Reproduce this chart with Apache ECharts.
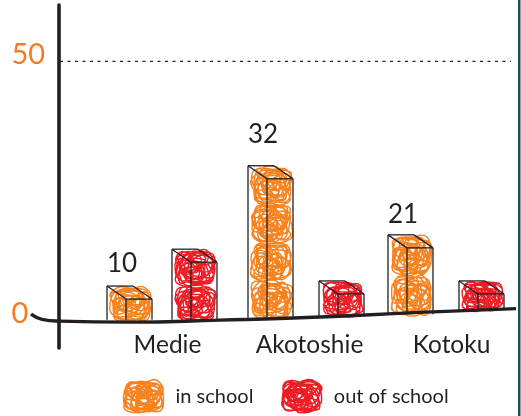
<!DOCTYPE html>
<html><head><meta charset="utf-8">
<style>html,body{margin:0;padding:0;background:#fff}#c{width:521px;height:416px}</style>
<script src="https://cdn.jsdelivr.net/npm/echarts@6/dist/echarts.min.js"></script>
</head><body><div id="c"></div>
<script>
// --- data ---
const categories = ['Medie', 'Akotoshie', 'Kotoku'];
const seriesNames = ['in school', 'out of school'];
const inSchoolLabels = [10, 32, 21];
// drawn heights in axis units (the sketch is not to scale with its labels)
const inSchoolTop = [6.1, 29.6, 16.1];
const outOfSchoolTop = [13.3, 7.1, 7.1];
const inSchoolBase = [-0.5, -0.1, 0.6];
const outOfSchoolBase = [-0.5, 0.25, 1.4];
const yTicks = [0, 50];
const guideValue = 50;

// --- layout / style constants ---
const ORANGE = '#f7821e', RED = '#ee1c25', INK = '#231f20', AXIS_ORANGE = '#f47b20';
const FONT = 'Lato';
const IN_DX = [-54.5, -55.5, -57.5], OUT_DX = [10.5, 15.5, 13.5];
const LABEL_RAISE = [22, 31, 20];
const FRONT_W = 26, SIDE_W = 19, SIDE_H = 13;

function squarish(v) {
  return Math.sign(v) * Math.pow(Math.abs(v), 0.72);
}
function scribblePoints(cx, cy, w, h, phase) {
  const pts = [];
  for (let t = 0; t < 300; t++) {
    const a = t * 0.39 + phase;
    const rx = 0.52 + 0.06 * Math.sin(t * 0.031 + phase);
    const ry = 0.50 + 0.07 * Math.cos(t * 0.027 + phase);
    const x = rx * Math.cos(a) + 0.40 * Math.cos(a * 0.23 + phase * 1.7) + 0.05 * Math.sin(a * 2.7);
    const y = ry * Math.sin(a) + 0.40 * Math.sin(a * 0.29 + phase) + 0.05 * Math.cos(a * 3.1);
    pts.push([cx + (w / 2) * squarish(x), cy + (h / 2) * squarish(y)]);
  }
  return pts;
}
function scribblePath(phase) {
  return 'path://' + scribblePoints(50, 40, 100, 80, phase)
    .map((p, i) => (i ? 'L' : 'M') + p[0].toFixed(1) + ' ' + p[1].toFixed(1)).join('');
}

function boxRenderer(color, dxList, labels) {
  return function (params, api) {
    const i = api.value(0);
    const topPt = api.coord([i, api.value(1)]);
    const basePt = api.coord([i, api.value(2)]);
    const x0 = topPt[0] + dxList[i], top = topPt[1], base = basePt[1];
    const x1 = x0 + SIDE_W, x2 = x1 + FRONT_W, frontTop = top + SIDE_H;
    const children = [];
    const w = x2 - x0, h = base - top;
    const blocks = Math.max(1, Math.round(h / 36));
    const bh = h / blocks;
    for (let b = 0; b < blocks; b++) {
      children.push({
        type: 'polyline', silent: true,
        shape: { points: scribblePoints((x0 + x2) / 2 + 1, top + bh * (b + 0.5) + 1, w - 3, bh + 2, 1.3 * b + i * 2.1 + (color === RED ? 0.7 : 0)) },
        style: { fill: 'none', stroke: color, lineWidth: 1.4 }
      });
    }
    const seg = (a, b, c, d) => ({ type: 'line', shape: { x1: a, y1: b, x2: c, y2: d }, style: { stroke: INK, lineWidth: 1.3 } });
    children.push(
      seg(x0, top, x0, base), seg(x1, frontTop, x1, base), seg(x2, frontTop, x2, base),
      seg(x0, top, x0 + FRONT_W, top), seg(x0, top, x1, frontTop),
      seg(x1, frontTop, x2, frontTop), seg(x0 + FRONT_W, top, x2, frontTop)
    );
    if (labels) {
      children.push({
        type: 'text',
        style: { x: x0 + 15, y: top - LABEL_RAISE[i], text: String(labels[i]), fill: INK, font: '26px ' + FONT, textAlign: 'center', textVerticalAlign: 'middle' }
      });
    }
    return { type: 'group', children };
  };
}

const chart = echarts.init(document.getElementById('c'), null, { renderer: 'canvas' });
chart.setOption({
  animation: false,
  backgroundColor: '#fff',
  grid: [
    { left: 90.5, width: 426, top: 5, bottom: 68 },
    { left: 0, width: 521, top: 5, bottom: 68 }
  ],
  legend: {
    left: 116, top: 372, itemWidth: 40, itemHeight: 36, itemGap: 26,
    textStyle: { fontFamily: FONT, fontSize: 20, color: INK, padding: [0, 0, 0, 7] },
    data: [
      { name: seriesNames[0], icon: scribblePath(0.4), itemStyle: { color: 'none', borderColor: ORANGE, borderWidth: 1.5 } },
      { name: seriesNames[1], icon: scribblePath(1.7), itemStyle: { color: 'none', borderColor: RED, borderWidth: 1.5 } }
    ],
    selectedMode: false
  },
  xAxis: [
    {
      type: 'category', data: categories, gridIndex: 0,
      axisLine: { show: false }, axisTick: { show: false },
      axisLabel: { fontFamily: FONT, fontSize: 24.5, color: INK, margin: -15, padding: [0, 0, 0, 12] }
    },
    { type: 'value', gridIndex: 1, min: 0, max: 521, show: false }
  ],
  yAxis: [
    {
      type: 'value', gridIndex: 0, min: -6, max: 61, offset: 32,
      axisLine: { show: true, lineStyle: { color: INK, width: 3.6 } },
      axisTick: { show: false }, splitLine: { show: false },
      axisLabel: {
        customValues: yTicks, fontFamily: FONT, align: 'left', margin: 47, verticalAlign: 'bottom',
        formatter: v => (v === 0 ? '{low|' + v + '}' : '{high|' + v + '}'),
        rich: {
          low: { color: AXIS_ORANGE, fontFamily: FONT, fontSize: 29, lineHeight: 8 },
          high: { color: AXIS_ORANGE, fontFamily: FONT, fontSize: 29, lineHeight: 14 }
        }
      }
    },
    { type: 'value', gridIndex: 1, min: -6, max: 61, show: false }
  ],
  series: [
    {
      name: 'guide', type: 'line', xAxisIndex: 1, yAxisIndex: 1, silent: true, symbol: 'none',
      data: [[60, guideValue], [511, guideValue]],
      lineStyle: { color: INK, width: 1.3, type: [3, 4.5] }
    },
    {
      name: 'baseline', type: 'line', xAxisIndex: 1, yAxisIndex: 1, silent: true, symbol: 'none', smooth: 0.5,
      data: [[31, 0.6], [42, -0.4], [60, -0.75], [130, -0.95], [220, -0.55], [300, -0.1], [420, 0.95], [516, 1.7]],
      lineStyle: { color: INK, width: 3.4 }, z: 4
    },
    {
      name: seriesNames[0], type: 'custom', coordinateSystem: 'cartesian2d', clip: false, z: 3,
      itemStyle: { color: ORANGE },
      encode: { x: 0, y: 1 },
      renderItem: boxRenderer(ORANGE, IN_DX, inSchoolLabels),
      data: categories.map((c, i) => [i, inSchoolTop[i], inSchoolBase[i]])
    },
    {
      name: seriesNames[1], type: 'custom', coordinateSystem: 'cartesian2d', clip: false, z: 3,
      itemStyle: { color: RED },
      encode: { x: 0, y: 1 },
      renderItem: boxRenderer(RED, OUT_DX, null),
      data: categories.map((c, i) => [i, outOfSchoolTop[i], outOfSchoolBase[i]])
    }
  ],
  graphic: [{ type: 'rect', shape: { x: 518, y: 0, width: 2.5, height: 416 }, style: { fill: '#1f4d4d' }, z: 10 }]
});
</script></body></html>
